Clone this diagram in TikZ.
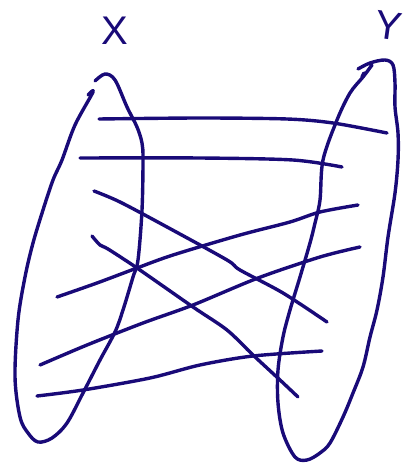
\documentclass[tikz,border=0pt]{standalone}
\usepackage{fontspec}
\setmainfont{Liberation Sans}
\definecolor{ink}{RGB}{25,10,120}
\begin{document}
\begin{tikzpicture}[x=1pt,y=-1pt,
  pen/.style={draw=ink,line width=3.4pt,line cap=round,line join=round},
  lbl/.style={text=ink,font=\fontsize{40}{40}\selectfont,inner sep=0pt}]
\useasboundingbox (0,0) rectangle (405,465);
% labels
\node[lbl] (lx) at (115,31) {X};
\node[lbl,rotate=-8] (ly) at (389,26) {Y};
% left set
\draw[pen] plot[smooth,tension=0.55] coordinates {(88,95) (93,92) (75,125) (62,160) (53,180) (43,210) (33,243) (25,277) (18,320) (15,377) (20,417) (28,433) (38,442) (52,438) (67,423) (83,393) (100,360) (115,332) (123,310) (133,277) (138,260) (142,210) (143,160) (142,143) (137,127) (127,107) (115,80) (105,74) (95,81)};
% right set
\draw[pen] plot[smooth,tension=0.55] coordinates {(358,69) (370,63) (385,60) (393,65) (395,83) (395,107) (398,133) (398,160) (395,193) (388,237) (383,277) (377,310) (370,337) (363,367) (353,393) (343,417) (330,443) (320,453) (307,460) (295,457) (283,433) (278,403) (278,370) (283,337) (290,310) (300,277) (310,243) (315,223) (320,200) (323,160) (337,120) (350,93) (363,77) (372,65)};
\draw[pen] (362,77) -- (364,73);
% connecting lines
\draw[pen] plot[smooth,tension=0.5] coordinates {(99,119) (200,118) (287,119) (333,123) (387,133)};
\draw[pen] plot[smooth,tension=0.5] coordinates {(80,158) (200,158) (293,160) (342,167)};
\draw[pen] plot[smooth,tension=0.5] coordinates {(94,191) (120,202) (167,227) (227,260) (240,270) (283,293) (327,322)};
\draw[pen] plot[smooth,tension=0.5] coordinates {(92,236) (100,245) (108,249) (137,268) (193,307) (227,330) (253,355) (280,380) (298,397)};
\draw[pen] plot[smooth,tension=0.5] coordinates {(57,297) (97,283) (137,268) (173,255) (240,235) (290,222) (320,212) (358,205)};
\draw[pen] plot[smooth,tension=0.5] coordinates {(40,365) (87,345) (143,323) (193,305) (258,278) (320,257) (360,247)};
\draw[pen] plot[smooth,tension=0.5] coordinates {(37,396) (83,390) (150,378) (200,365) (253,356) (322,351)};
\end{tikzpicture}
\end{document}
